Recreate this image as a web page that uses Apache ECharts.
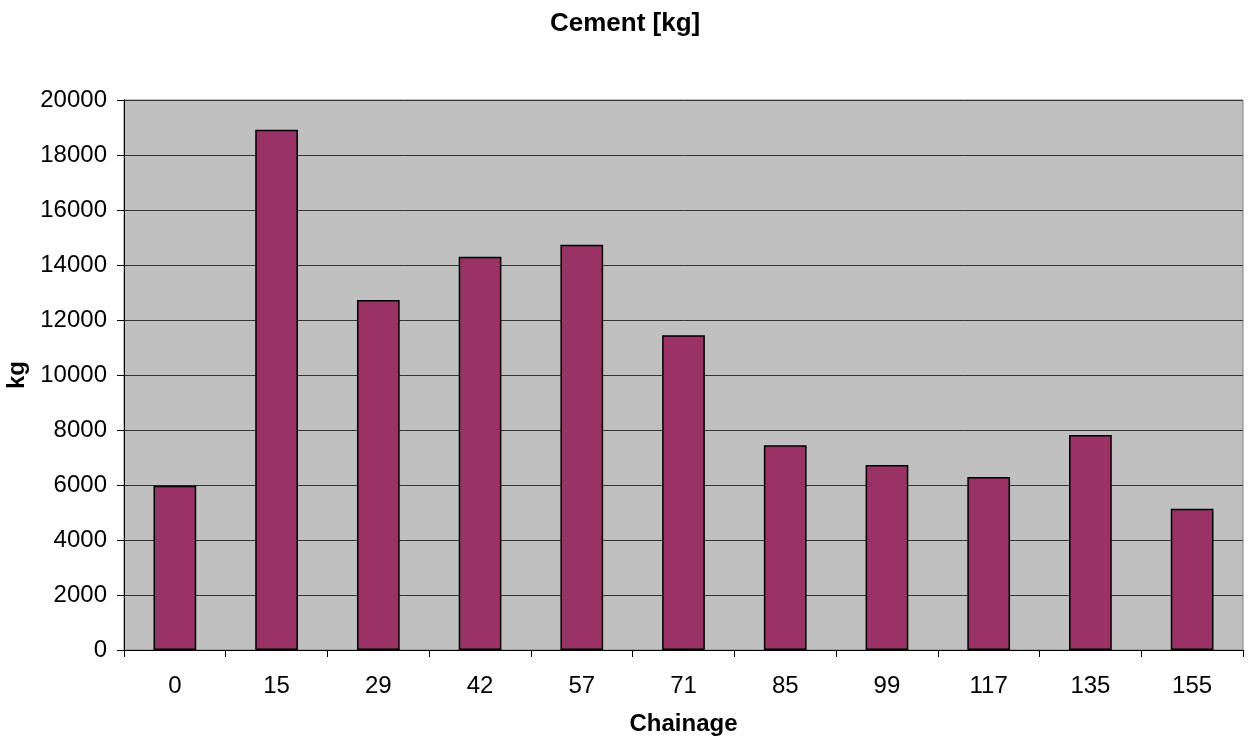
<!DOCTYPE html>
<html>
<head>
<meta charset="utf-8">
<script src="https://cdn.jsdelivr.net/npm/echarts@6/dist/echarts.min.js"></script>
<style>
html,body{margin:0;padding:0;background:#fff;}
#chart{width:1253px;height:742px;}
</style>
</head>
<body>
<div id="chart"></div>
<script>
var categories = ['0','15','29','42','57','71','85','99','117','135','155'];
var cementKg = [5970, 18920, 12730, 14300, 14740, 11450, 7450, 6730, 6290, 7820, 5140];
var yTicks = [0, 2000, 4000, 6000, 8000, 10000, 12000, 14000, 16000, 18000, 20000];

var chart = echarts.init(document.getElementById('chart'), null, {renderer:'canvas'});
var font = '"Liberation Sans", Arial, sans-serif';
chart.setOption({
  animation:false,
  backgroundColor:'#ffffff',
  title:{
    text:'Cement [kg]',
    left:545, top:6,
    textStyle:{fontFamily:font, fontSize:26, fontWeight:'bold', color:'#000'}
  },
  grid:{left:124, right:10, top:100, bottom:92, containLabel:false, outerBoundsMode:'none',
        show:true, backgroundColor:'#C0C0C0', borderColor:'#808080', borderWidth:1},
  xAxis:{
    type:'category',
    data:categories,
    name:'Chainage',
    nameLocation:'middle',
    nameGap:62,
    nameTextStyle:{fontFamily:font, fontSize:24, fontWeight:'bold', color:'#000'},
    axisLine:{show:true, lineStyle:{color:'#000', width:1}},
    axisTick:{show:true, alignWithLabel:false, length:7, lineStyle:{color:'#000'}},
    axisLabel:{fontFamily:font, fontSize:24, color:'#000', margin:24},
    splitLine:{show:false}
  },
  yAxis:{
    type:'value',
    min:yTicks[0], max:yTicks[yTicks.length-1], interval:2000,
    name:'kg',
    nameLocation:'middle',
    nameGap:94,
    nameRotate:90,
    nameTextStyle:{fontFamily:font, fontSize:24, fontWeight:'bold', color:'#000'},
    axisLine:{show:true, lineStyle:{color:'#000', width:1}},
    axisTick:{show:true, length:7, lineStyle:{color:'#000'}},
    axisLabel:{fontFamily:font, fontSize:24, color:'#000', margin:17, formatter:function(v){return String(v);}},
    splitLine:{show:true, lineStyle:{color:'#333', width:1}}
  },
  series:[{
    type:'bar',
    data:cementKg,
    barWidth:'42%',
    itemStyle:{color:'#993366', borderColor:'#000', borderWidth:1.5}
  }]
});
</script>
</body>
</html>
